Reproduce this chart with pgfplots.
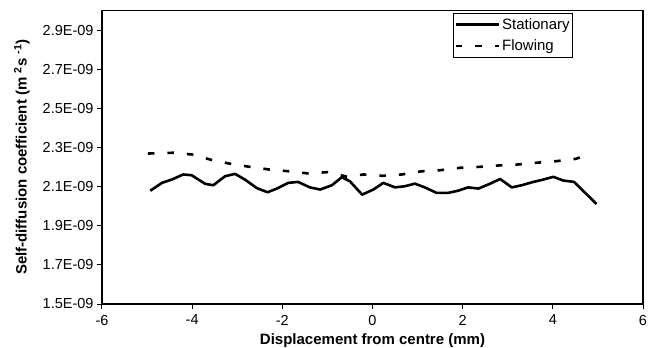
\documentclass[border=0pt]{standalone}
\usepackage{pgfplots}
\pgfplotsset{compat=1.18}
\usepackage{fontspec}
\setmainfont{Liberation Sans}
\begin{document}
\begin{tikzpicture}
\useasboundingbox (-102bp,-44bp) rectangle (546bp,304bp);
\begin{axis}[
  at={(0,0)}, anchor=south west,
  scale only axis, width=541bp, height=293.5bp,
  xmin=-6, xmax=6, ymin=1.5, ymax=3.0,
  xtick={-6,-4,-2,0,2,4,6}, xticklabels={-6,-4,-2,0,2,4,6},
  ytick={1.5,1.7,1.9,2.1,2.3,2.5,2.7,2.9},
  yticklabels={1.5E-09,1.7E-09,1.9E-09,2.1E-09,2.3E-09,2.5E-09,2.7E-09,2.9E-09},
  tick align=outside, major tick length=5bp,
  xtick pos=bottom, ytick pos=left,
  axis line style={line width=1.2bp},
  every tick/.style={black, line width=1bp},
  tick label style={font=\fontsize{14.5bp}{17bp}\selectfont},
  xticklabel style={yshift=-2.5bp},
  xlabel={Displacement from centre (mm)},
  ylabel={Self-diffusion coefficient (m \textsuperscript{2}s \textsuperscript{-1})},
  label style={font=\fontsize{15bp}{18bp}\selectfont\bfseries},
  xlabel style={at={(axis description cs:0.5,-0.125)}, anchor=center},
  ylabel style={at={(axis description cs:-0.148,0.5)}, anchor=center},
  legend style={at={(0.649,0.9925)}, anchor=north west, draw=black, line width=0.8bp,
    font=\fontsize{15bp}{18bp}\selectfont, inner xsep=1bp, inner ysep=3.5bp, row sep=5bp,
    cells={anchor=west}},
  legend image code/.code={\draw[#1] (0bp,0bp) -- (43bp,0bp);},
]
\addplot[black, line width=2.6bp, line join=round] table {
-4.93 2.079
-4.67 2.119
-4.45 2.136
-4.20 2.162
-4.01 2.158
-3.71 2.114
-3.53 2.107
-3.27 2.153
-3.05 2.165
-2.83 2.136
-2.57 2.093
-2.33 2.071
-2.12 2.090
-1.87 2.119
-1.65 2.124
-1.39 2.096
-1.16 2.085
-0.90 2.107
-0.68 2.148
-0.50 2.127
-0.23 2.059
0.02 2.085
0.24 2.119
0.50 2.096
0.72 2.102
0.94 2.115
1.16 2.096
1.42 2.068
1.68 2.068
1.90 2.079
2.12 2.096
2.35 2.090
2.61 2.115
2.83 2.139
3.09 2.096
3.31 2.107
3.57 2.124
3.79 2.136
4.01 2.150
4.23 2.131
4.47 2.124
4.97 2.011
};
\addlegendentry{Stationary}
\addplot[black, line width=2.6bp, dash pattern=on 6.5bp off 13bp] table {
-4.98 2.269
-4.42 2.273
-4.00 2.264
-3.58 2.237
-3.12 2.215
-2.72 2.201
-2.28 2.187
-1.84 2.178
-1.42 2.167
-0.99 2.174
-0.57 2.151
-0.20 2.162
0.23 2.155
0.65 2.162
1.08 2.178
1.51 2.184
1.94 2.196
2.37 2.201
2.80 2.208
3.23 2.213
3.64 2.222
4.08 2.230
4.51 2.242
4.67 2.254
};
\addlegendentry{Flowing}
\end{axis}
\end{tikzpicture}
\end{document}
